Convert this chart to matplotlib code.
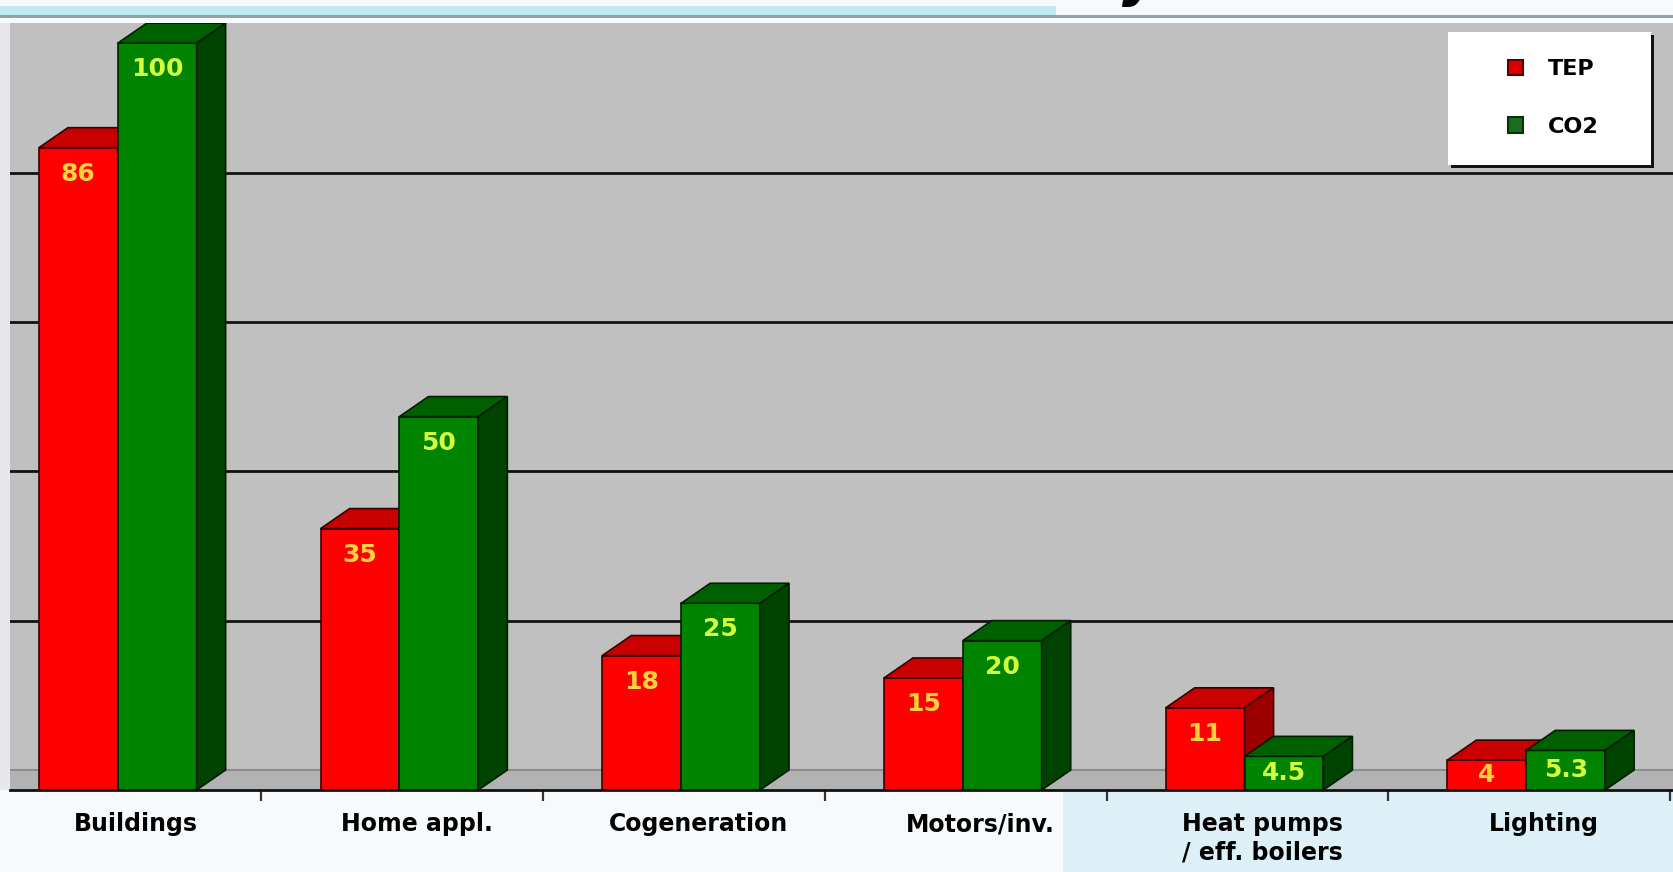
#!/usr/bin/env python3
# encoding: utf-8

# ---------------------------------------------------------------------------
# IMPORT
# ---------------------------------------------------------------------------
import matplotlib
matplotlib.use("Agg")
import matplotlib.pyplot as plt
from matplotlib.patches import Polygon, Rectangle, Patch
import numpy as np
# ---------------------------------------------------------------------------

# ---------------------------------------------------------------------------
# DATA
# ---------------------------------------------------------------------------
categories = ["Buildings", "Home appl.", "Cogeneration", "Motors/inv.",
              "Heat pumps\n/ eff. boilers", "Lighting"]
tep = [86, 35, 18, 15, 11, 4]
co2 = [100, 50, 25, 20, 4.5, 5.3]
grid_values = [20, 40, 60, 80]
series_names = ["TEP", "CO2"]
# ---------------------------------------------------------------------------

W, H = 1673, 872
DX = 0.103      # depth of the 3d boxes, x data units
DY = 2.68       # depth of the 3d boxes, y data units
BAR_W = 0.28

fig = plt.figure(figsize=(W / 100, H / 100), dpi=100)
fig.patch.set_facecolor("#F7FAFC")

# page decorations around the chart (kept under the axes)
def band(x0, y0, w, h, col, z=-1):
    fig.patches.append(Rectangle((x0 / W, 1 - (y0 + h) / H), w / W, h / H,
                                 transform=fig.transFigure, fc=col, ec="none", zorder=z))

band(0, 6, 1056, 9, "#C4E9F6")
band(0, 15, W, 3, "#8FA3A8")
band(0, 23, 10, 767, "#E6E8EC")
band(1063, 790, W - 1063, H - 790, "#DDEFF7")

# title cut by the top edge
fig.text(1122 / W, 1 + 5 / H, "y", fontsize=40, fontweight="bold", fontstyle="italic",
         va="baseline", ha="left", color="black")

ax = fig.add_axes([10 / W, 1 - 790 / H, (W - 10) / W, (790 - 23) / H])
ax.set_facecolor("#C0C0C0")
ax.set_xlim(-0.3925, 5.511)
ax.set_ylim(0, 102.7)

# back wall grid lines and floor
for g in grid_values:
    ax.axhline(g + DY, color="#111111", lw=2.0, zorder=1)
ax.axhspan(0, DY, color="#B2B2B2", zorder=1)
ax.axhline(DY, color="#8C8C8C", lw=1.5, zorder=1)

x = np.arange(len(categories))


def draw_boxes(xpos, values, face, top, side, edge, z, label):
    ax.bar(xpos, values, width=BAR_W, color=face, edgecolor=edge, linewidth=1.2,
           zorder=z, label=label)
    for xi, v in zip(xpos, values):
        x0, x1 = xi - BAR_W / 2, xi + BAR_W / 2
        ax.add_patch(Polygon([(x0, v), (x1, v), (x1 + DX, v + DY), (x0 + DX, v + DY)],
                             closed=True, fc=top, ec=edge, lw=1.2, zorder=z))
        ax.add_patch(Polygon([(x1, 0), (x1 + DX, DY), (x1 + DX, v + DY), (x1, v)],
                             closed=True, fc=side, ec=edge, lw=1.2, zorder=z))


draw_boxes(x - 0.15, tep, "#FF0000", "#C80000", "#9A0000", "#3A0000", 3, series_names[0])
draw_boxes(x + 0.13, co2, "#008400", "#006000", "#004200", "#001E00", 4, series_names[1])

# value labels inside the front faces
for xs, vals, col in [(x - 0.15, tep, "#FFD23C"), (x + 0.13, co2, "#D4FF3A")]:
    for xi, v in zip(xs, vals):
        ly = max(v - 3.5, v / 2)
        ax.text(xi, ly, f"{v:g}", ha="center", va="center", color=col,
                fontsize=18, fontweight="bold", zorder=6)

# axes
for s in ["left", "right", "top"]:
    ax.spines[s].set_visible(False)
ax.spines["bottom"].set_color("#111111")
ax.spines["bottom"].set_linewidth(2)
ax.set_yticks([])
ax.set_xticks(np.arange(0.5, len(categories) + 0.5, 1))
ax.set_xticklabels([])
ax.tick_params(axis="x", which="major", length=8, width=1.6, color="#333333")
ax.set_xticks(x + 0.053, minor=True)
ax.set_xticklabels(categories, minor=True, fontsize=17, fontweight="bold")
ax.tick_params(axis="x", which="minor", length=0, pad=16)
for t in ax.get_xticklabels(minor=True):
    t.set_linespacing(1.25)

# legend box with a hard shadow
band(1451, 35, 203, 133, "#111111", z=5)
band(1448, 32, 203, 133, "white", z=5)
handles = [Patch(fc="#D80000", ec="#5A0000", lw=1.5), Patch(fc="#1E6A1E", ec="#0A300A", lw=1.5)]
leg = fig.legend(handles, series_names, loc="center", bbox_to_anchor=(1553 / W, 1 - 98 / H),
                 frameon=False, prop={"weight": "bold", "size": 16},
                 handlelength=0.7, handleheight=0.7, handletextpad=1.1, labelspacing=1.7)
leg.set_zorder(6)

fig.savefig("out.png", dpi=100, facecolor=fig.get_facecolor())
